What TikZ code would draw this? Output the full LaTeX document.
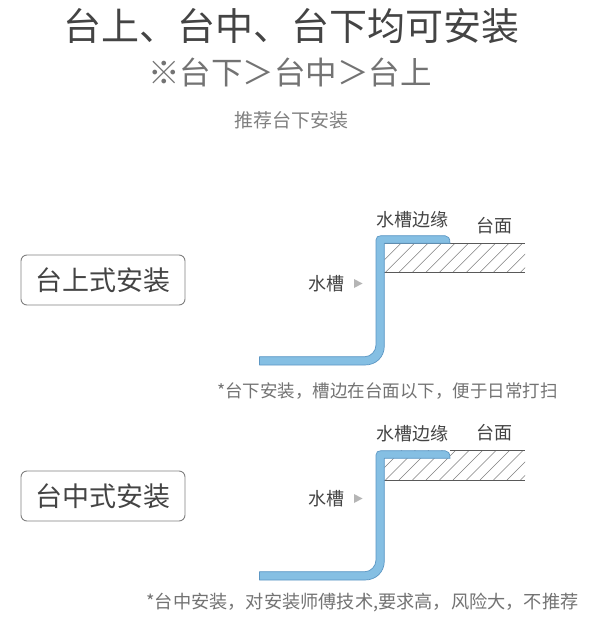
\documentclass[tikz,border=0pt]{standalone}
\usepackage{fontspec}
\setmainfont{Noto Sans CJK SC}
\definecolor{sinkfill}{HTML}{85BFE3}
\definecolor{sinkline}{HTML}{5C97C4}
\definecolor{txt}{HTML}{444444}
\definecolor{arrowgrey}{HTML}{B5B5B5}
\tikzset{
  px/.style={x=1pt,y=-1pt},
  lbl/.style={inner sep=0pt,text=txt,font=\fontsize{#1}{#1}\selectfont},
  lbl/.default=18,
  tagbox/.style={draw=black!50,line width=0.9pt,rounded corners=6pt,minimum width=164pt,minimum height=50pt,inner sep=0pt,text=txt,font=\fontsize{27}{27}\selectfont},
  sink/.style={fill=sinkfill,draw=sinkline,line width=0.7pt,line join=round},
  counter/.style={draw=black!65,line width=0.9pt},
  hatch/.style={draw=black!50,line width=0.5pt},
  pointer/.style={fill=arrowgrey,draw=none},
}
\begin{document}
\begin{tikzpicture}[px]
\useasboundingbox (0,0) rectangle (603,626);
\fill[white] (0,0) rectangle (603,626);
\node[lbl=38] (title) at (291,26) {台上、台中、台下均可安装};
\node[lbl=31.5,text=black!55] (sub) at (290,72) {※台下＞台中＞台上};
\node[lbl=19,text=black!50] (rec) at (291,120) {推荐台下安装};

% first: on-counter
\node[tagbox] (boxa) at (103,280) {台上式安装};
\begin{scope}
\clip (384.3,243.3) rectangle (525,272.3);
\foreach \i in {0,...,12} {\draw[hatch] ({372+13.5*\i},272.3) -- ++(30,-30);}
\end{scope}
\coordinate (a1) at (384.3,243.3);
\coordinate (a2) at (525,243.3);
\coordinate (a3) at (384.3,272.3);
\coordinate (a4) at (525,272.3);
\draw[counter] (a1) -- (a2) (a3) -- (a4);
\draw[sink] (259.5,356.7) -- (365,356.7) .. controls (371,356.7) and (376,351) .. (376,345)
  -- (376,240) .. controls (376,237) and (378,235.7) .. (381,235.7)
  -- (445,235.7) .. controls (448,235.7) and (450,238) .. (450,243.3)
  -- (384.3,243.3) -- (384.3,346) .. controls (384.3,357) and (376,365) .. (365,365)
  -- (259.5,365) -- cycle;
\node[lbl=18] (rima) at (412.7,219.5) {水槽边缘};
\node[lbl=18] (topa) at (494.5,225.5) {台面};
\node[lbl=18] (sinka) at (326,283.5) {水槽};
\fill[pointer] (354,279) -- (362.5,283.5) -- (354,288) -- cycle;
\node[lbl=17.5,text=black!55] (notea) at (387.5,391) {*台下安装，槽边在台面以下，便于日常打扫};

% second: flush
\node[tagbox] (boxb) at (103,496) {台中式安装};
\begin{scope}
\clip (384.3,450.7) rectangle (525,480);
\foreach \i in {0,...,12} {\draw[hatch] ({372+13.5*\i},480) -- ++(30,-30);}
\end{scope}
\coordinate (b1) at (450,450.7);
\coordinate (b2) at (525,450.7);
\coordinate (b3) at (384.3,480);
\coordinate (b4) at (525,480);
\draw[counter] (b1) -- (b2) (b3) -- (b4);
\draw[sink] (259.5,571.7) -- (365,571.7) .. controls (371,571.7) and (376,566) .. (376,560)
  -- (376,455) .. controls (376,452) and (378,450.7) .. (381,450.7)
  -- (445,450.7) .. controls (448,450.7) and (450,453) .. (450,458.3)
  -- (384.3,458.3) -- (384.3,561) .. controls (384.3,572) and (376,580) .. (365,580)
  -- (259.5,580) -- cycle;
\node[lbl=18] (rimb) at (412.7,434) {水槽边缘};
\node[lbl=18] (topb) at (494.5,432.5) {台面};
\node[lbl=18] (sinkb) at (326,498.5) {水槽};
\fill[pointer] (354,494) -- (362.5,498.5) -- (354,503) -- cycle;
\node[lbl=18.2,text=black!55] (noteb) at (362.5,603) {*台中安装，对安装师傅技术,要求高，风险大，不推荐};
\end{tikzpicture}
\end{document}
